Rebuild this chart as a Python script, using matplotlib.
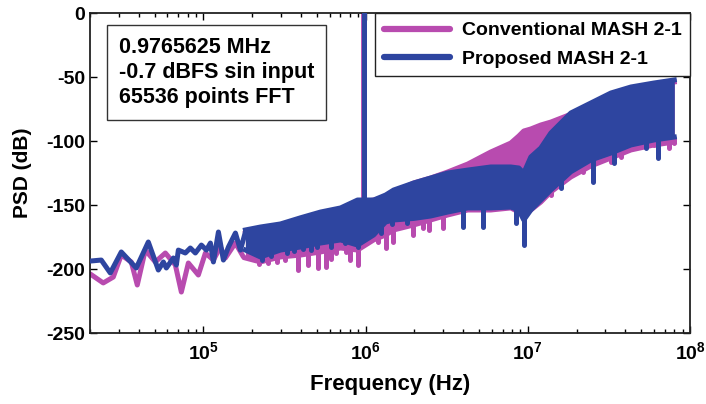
import numpy as np
import matplotlib
matplotlib.use('Agg')
import matplotlib.pyplot as plt
from matplotlib.ticker import FixedLocator, FixedFormatter, LogLocator, NullFormatter

plt.rcParams['font.family'] = ['Liberation Sans', 'DejaVu Sans']
plt.rcParams['font.weight'] = 'bold'
plt.rcParams['axes.unicode_minus'] = False
plt.rcParams['mathtext.fontset'] = 'custom'
plt.rcParams['mathtext.bf'] = 'Liberation Sans:bold'
plt.rcParams['mathtext.rm'] = 'Liberation Sans:bold'

# ---------------- data ----------------
series_names = ['Conventional MASH 2-1', 'Proposed MASH 2-1']
tone_freq = 9.765625e5

# low-frequency part (individual FFT bins visible as a line)
conv_low_f = [2.007e4, 2.414e4, 2.783e4, 3.118e4, 3.593e4, 3.913e4, 4.385e4, 5.054e4, 5.828e4,
              6.718e4, 7.315e4, 8.08e4, 9.31e4, 1.029e5, 1.153e5, 1.273e5, 1.367e5, 1.576e5, 1.766e5]
conv_low_db = [-203.9, -210.9, -206.3, -189.1, -194.5, -212.5, -185.2, -194.5, -187.5,
               -196.9, -218.0, -195.3, -204.7, -187.5, -193.0, -182.8, -191.4, -179.7, -190.6]

prop_low_f = [2.007e4, 2.347e4, 2.667e4, 3.118e4, 3.858e4, 4.576e4, 5.276e4, 5.665e4, 5.911e4,
              6.529e4, 6.813e4, 7.01e4, 7.74e4, 8.31e4, 8.925e4, 9.72e4, 1.044e5, 1.105e5, 1.153e5,
              1.238e5, 1.329e5, 1.427e5, 1.576e5, 1.692e5, 1.816e5]
prop_low_db = [-193.8, -193.0, -203.1, -186.7, -199.2, -178.9, -200.8, -194.5, -199.2,
               -191.4, -196.9, -185.2, -187.5, -183.6, -187.5, -181.3, -185.2, -179.7, -194.5,
               -171.1, -193.0, -182.8, -171.9, -185.2, -171.1]

# high-frequency part: dense noise band (upper / lower envelope)
band_f = [1.816e5, 2.248e5, 2.987e5, 3.970e5, 5.275e5, 7.01e5, 8.925e5, 1.121e6, 1.329e6,
          1.489e6, 1.979e6, 2.519e6, 3.208e6, 4.262e6, 5.911e6, 7.855e6, 8.799e6, 9.447e6,
          1.044e7, 1.203e7, 1.387e7, 1.843e7, 2.449e7, 3.254e7, 4.324e7, 5.995e7, 8.0e7]

prop_upper = [-169.5, -167.2, -164.8, -160.0, -155.5, -152.3, -146.1, -146.1, -142.2,
              -138.3, -132.8, -128.9, -125.0, -122.7, -120.3, -120.3, -121.1, -125.0,
              -112.5, -105.5, -93.8, -78.1, -70.3, -62.5, -57.8, -54.7, -52.3]
prop_lower = [-185.2, -190.6, -185.2, -182.8, -179.7, -177.3, -181.3, -173.4, -163.3,
              -161.7, -160.5, -158.6, -155.5, -152.3, -152.3, -151.6, -153.9, -161.7,
              -153.9, -146.1, -138.3, -124.0, -114.8, -109.4, -103.1, -99.2, -96.9]

conv_upper = [-171.9, -169.5, -167.2, -163.3, -157.8, -153.9, -148.4, -146.1, -143.8,
              -140.0, -132.8, -128.9, -124.2, -118.0, -108.6, -101.6, -96.1, -92.2,
              -90.6, -87.5, -85.2, -79.1, -71.1, -64.0, -59.4, -56.3, -53.9]
conv_lower = [-191.4, -194.5, -190.6, -189.1, -186.7, -183.6, -185.2, -177.3, -173.4,
              -169.5, -165.6, -161.7, -157.8, -153.9, -153.9, -152.3, -155.5, -157.8,
              -153.9, -147.7, -139.8, -128.1, -119.5, -113.3, -107.0, -103.1, -100.8]

# deep notches below the band
prop_dip_f = [2.313e5, 2.6e5, 3.300e5, 3.6e5, 4.1e5, 4.576e5, 5.0e5, 6.081e5, 7.5e5, 8.925e5,
              1.238e6, 1.45e6, 1.8e6, 3.970e6, 5.275e6, 8.433e6, 9.447e6, 1.044e7, 1.598e7,
              2.519e7, 3.395e7, 5.349e7, 6.346e7]
prop_dip_db = [-193.0, -190.0, -187.5, -186.0, -184.0, -185.2, -183.0, -182.8, -180.0, -182.8,
               -171.9, -165.0, -164.0, -167.2, -167.2, -164.1, -181.3, -151.6, -136.7,
               -132.0, -117.2, -105.5, -113.3]

conv_dip_f = [2.2e5, 2.5e5, 2.862e5, 3.208e5, 3.858e5, 4.4e5, 5.054e5, 5.665e5, 6.1e5, 6.529e5,
              7.525e5, 8.0e5, 8.925e5, 1.074e6, 1.186e6, 1.329e6, 1.468e6, 1.576e6, 1.950e6,
              2.248e6, 2.449e6, 2.987e6, 3.347e6, 1.387e7, 2.186e7, 3.254e7, 3.751e7, 5.995e7,
              7.42e7, 8.0e7]
conv_dip_db = [-196.0, -195.0, -194.5, -193.0, -200.8, -197.0, -199.2, -198.4, -192.0, -187.5,
               -186.7, -193.0, -196.9, -175.0, -178.9, -183.6, -178.9, -167.2, -173.4,
               -168.0, -169.5, -168.0, -155.5, -142.2, -124.2, -116.4, -112.5, -103.1,
               -105.5, -101.6]

colors = ['#B84BAF', '#2E45A0']
x_ticks = [1e5, 1e6, 1e7, 1e8]
x_tick_labels = [r'$\mathbf{10^{5}}$', r'$\mathbf{10^{6}}$', r'$\mathbf{10^{7}}$', r'$\mathbf{10^{8}}$']
y_ticks = [-250, -200, -150, -100, -50, 0]

# ---------------- figure ----------------
fig = plt.figure(figsize=(7.06, 4.04), dpi=100)
ax = fig.add_axes([90 / 706, 71 / 404, 600 / 706, 320 / 404])

lw = 3.6
series = [
    (conv_low_f, conv_low_db, conv_upper, conv_lower, conv_dip_f, conv_dip_db),
    (prop_low_f, prop_low_db, prop_upper, prop_lower, prop_dip_f, prop_dip_db),
]
lfb = np.log10(band_f)
for i, (lf, ldb, up, lo, df, ddb) in enumerate(series):
    c = colors[i]
    z = 2 + i
    ax.plot(lf, ldb, color=c, lw=lw, solid_joinstyle='round', solid_capstyle='round', zorder=z,
            label=series_names[i])
    ax.fill_between(band_f, lo, up, color=c, lw=0, zorder=z)
    ax.plot(band_f, up, color=c, lw=lw, solid_joinstyle='round', zorder=z)
    ax.plot(band_f, lo, color=c, lw=lw, solid_joinstyle='round', zorder=z)
    tops = np.interp(np.log10(df), lfb, lo) + 3
    ax.vlines(df, ddb, tops, color=c, lw=lw, capstyle='round', zorder=z)
    base = np.interp(np.log10(tone_freq), lfb, lo)
    ax.vlines([tone_freq], [base], [5], color=c, lw=3.6 if i else 4.2, zorder=z)

ax.set_xscale('log')
ax.set_xlim(2e4, 1e8)
ax.set_ylim(-250, 0)
ax.xaxis.set_major_locator(FixedLocator(x_ticks))
ax.xaxis.set_major_formatter(FixedFormatter(x_tick_labels))
ax.xaxis.set_minor_locator(LogLocator(base=10, subs=np.arange(2, 10), numticks=20))
ax.xaxis.set_minor_formatter(NullFormatter())
ax.set_yticks(y_ticks)
ax.set_yticklabels([str(v) for v in y_ticks])
ax.tick_params(which='both', direction='in', top=True, right=True, labelsize=14, width=1.0)
ax.tick_params(which='major', length=5)
ax.tick_params(which='minor', length=3)
ax.tick_params(axis='x', pad=6)
for s in ax.spines.values():
    s.set_linewidth(1.3)
    s.set_color('#222222')

ax.set_xlabel('Frequency (Hz)', fontsize=16, fontweight='bold', labelpad=8)
ax.set_ylabel('PSD (dB)', fontsize=15, fontweight='bold', labelpad=10)

leg = ax.legend(loc='upper right', fontsize=14, frameon=True, fancybox=False,
                edgecolor='#222222', borderaxespad=0, handlelength=3.4, framealpha=1,
                labelspacing=0.55, borderpad=0.45, handletextpad=0.6)
leg.get_frame().set_linewidth(1.0)
for h in leg.get_lines():
    h.set_linewidth(4.5)
for t in leg.get_texts():
    t.set_fontweight('bold')

ax.text(0.048, 0.925, '0.9765625 MHz\n-0.7 dBFS sin input\n65536 points FFT',
        transform=ax.transAxes, ha='left', va='top', fontsize=15.5, fontweight='bold',
        linespacing=1.25, zorder=10,
        bbox=dict(boxstyle='square,pad=0.55', fc='white', ec='#333333', lw=1.0))

fig.savefig('out.png', dpi=100)
